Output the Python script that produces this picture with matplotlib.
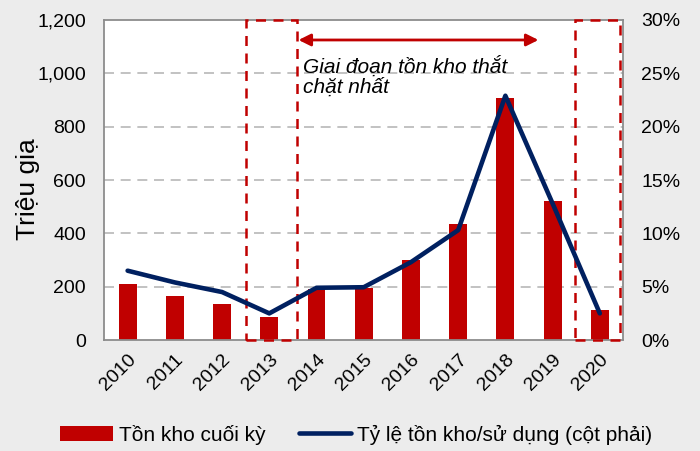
import matplotlib
matplotlib.use("Agg")
import matplotlib.pyplot as plt
from matplotlib.patches import Rectangle
import numpy as np

plt.rcParams['font.family'] = ['Liberation Sans', 'DejaVu Sans']

years = ["2010", "2011", "2012", "2013", "2014", "2015", "2016", "2017", "2018", "2019", "2020"]
inventory = [210, 165, 136, 87, 190, 194, 300, 435, 909, 522, 114]
ratio = [6.5, 5.4, 4.5, 2.5, 4.9, 4.95, 7.3, 10.3, 22.9, 12.8, 2.5]

bar_color = "#c00000"
line_color = "#002060"
bg = "#ececec"

fig = plt.figure(figsize=(7, 4.51), dpi=100, facecolor=bg)
ax = fig.add_axes([0.1486, 0.246, 0.742, 0.7097])
ax.set_facecolor("white")
x = np.arange(len(years))
bars = ax.bar(x, inventory, width=0.38, color=bar_color, label="Tồn kho cuối kỳ", zorder=2)
ax.set_xlim(-0.5, len(years) - 0.5)
ax.set_ylim(0, 1200)
ax.set_yticks(range(0, 1201, 200))
ax.set_yticklabels([f"{v:,}" for v in range(0, 1201, 200)], fontsize=14)
ax.set_xticks(x)
ax.set_xticklabels(years, rotation=45, ha="right", rotation_mode="anchor", fontsize=14)
ax.tick_params(axis="y", length=0, pad=13)
ax.tick_params(axis="x", length=0, pad=8)
for v in range(200, 1200, 200):
    ax.axhline(v, color="#b8b8b8", lw=1.2, ls=(0, (6, 4)), zorder=1)
for s in ax.spines.values():
    s.set_color("#8c8c8c")
    s.set_linewidth(1.3)
ax.set_ylabel("Triệu giạ", fontsize=19)
ax.yaxis.set_label_coords(-0.124, 0.47)

ax2 = ax.twinx()
line, = ax2.plot(x, ratio, color=line_color, lw=3.3, solid_capstyle="round",
                 label="Tỷ lệ tồn kho/sử dụng (cột phải)", zorder=3)
ax2.set_ylim(0, 30)
ax2.set_yticks(range(0, 31, 5))
ax2.set_yticklabels([f"{v}%" for v in range(0, 31, 5)], fontsize=14)
ax2.tick_params(axis="y", length=0, pad=13)
for s in ax2.spines.values():
    s.set_visible(False)

# dashed rectangles
for (x0, x1) in [(2.5, 3.59), (9.48, 10.43)]:
    r = Rectangle((x0, 0), x1 - x0, 1200, fill=False, edgecolor=bar_color,
                  lw=1.8, ls=(0, (4, 3)), clip_on=False, zorder=4)
    ax.add_patch(r)

# arrow
ax.annotate("", xy=(3.62, 1125), xytext=(8.7, 1125),
            arrowprops=dict(arrowstyle="<|-|>", color=bar_color, lw=2,
                            mutation_scale=18, shrinkA=0, shrinkB=0), zorder=5)
ax.text(3.72, 1068, "Giai đoạn tồn kho thắt\nchặt nhất", fontsize=15, style="italic",
        va="top", ha="left", linespacing=1.1, zorder=5)

fig.legend(handles=[bars, line], loc="center", bbox_to_anchor=(0.509, 0.036), ncol=2,
           frameon=False, fontsize=15, handlelength=2.5, handleheight=0.75,
           handletextpad=0.3, columnspacing=1.6)

fig.savefig("out.png", dpi=100, facecolor=bg)
